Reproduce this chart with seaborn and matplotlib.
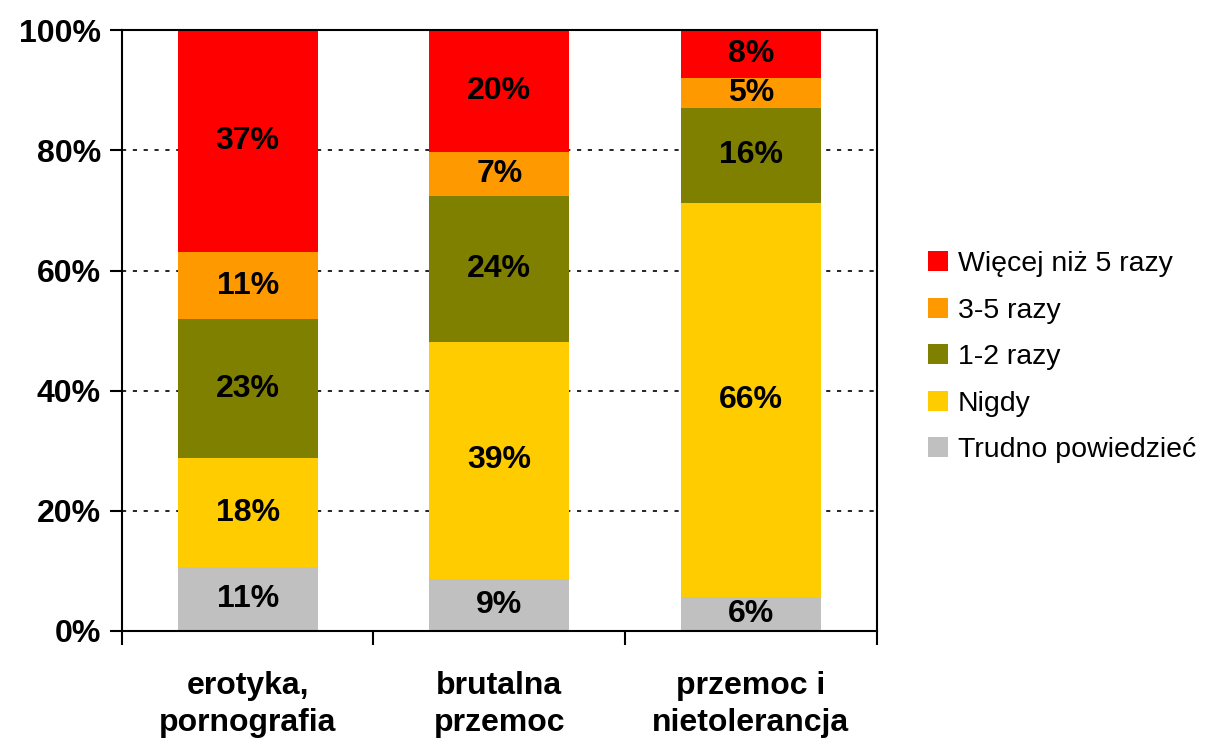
import numpy as np
import pandas as pd
import matplotlib
matplotlib.use("Agg")
import matplotlib.pyplot as plt
import seaborn as sns

# ── Data ──────────────────────────────────────────────────────────────────────
categories = ["erotyka,\npornografia", "brutalna\nprzemoc", "przemoc i\nnietolerancja"]
series = ["Trudno powiedzieć", "Nigdy", "1-2 razy", "3-5 razy", "Więcej niż 5 razy"]
trudno = [10.6, 8.7, 5.7]
nigdy = [18.2, 39.4, 65.6]
raz_1_2 = [23.1, 24.3, 15.8]
raz_3_5 = [11.2, 7.3, 5.0]
wiecej_5 = [36.9, 20.3, 7.9]
colors = ["#C0C0C0", "#FFCC00", "#808000", "#FF9900", "#FF0000"]

values = [trudno, nigdy, raz_1_2, raz_3_5, wiecej_5]

# ── Plot ──────────────────────────────────────────────────────────────────────
sns.set_style("white")
plt.rcParams["font.family"] = ["Liberation Sans", "DejaVu Sans"]
plt.rcParams["text.color"] = "black"
plt.rcParams["xtick.color"] = "black"
plt.rcParams["ytick.color"] = "black"

fig = plt.figure(figsize=(12.06, 7.38), dpi=100)
ax = fig.add_axes([0.101, 0.145, 0.626, 0.814])

# dotted grid behind bars
for y in [20, 40, 60, 80]:
    ax.axhline(y, color="black", linestyle=(0, (2.5, 4)), linewidth=1.2, zorder=0)

bottom = np.zeros(len(categories))
for name, vals, col in zip(series, values, colors):
    sns.barplot(x=categories, y=vals, bottom=bottom, color=col, width=0.556,
                label=name, ax=ax, saturation=1, zorder=2, linewidth=0,
                edgecolor="none")
    for i, v in enumerate(vals):
        ax.text(i, bottom[i] + v / 2, f"{v:.0f}%", ha="center", va="center",
                fontsize=23, fontweight="bold", color="black", zorder=3)
    bottom = bottom + np.array(vals)

ax.set_xlim(-0.5, 2.5)
ax.set_ylim(0, 100)
ax.set_yticks([0, 20, 40, 60, 80, 100])
ax.set_yticklabels([f"{t}%" for t in [0, 20, 40, 60, 80, 100]],
                   fontsize=23, fontweight="bold")
ax.tick_params(axis="y", length=9, width=1.5, direction="out", pad=6, left=True)

ax.set_xticks([-0.5, 0.5, 1.5, 2.5])
ax.set_xticklabels([])
ax.set_xticks([0, 1, 2], minor=True)
ax.set_xticklabels(categories, minor=True, fontsize=23, fontweight="bold",
                   linespacing=1.3)
ax.tick_params(axis="x", which="major", length=10, width=1.5, direction="out", bottom=True)
ax.tick_params(axis="x", which="minor", length=0, pad=29)
ax.set_xlabel("")
ax.set_ylabel("")

for s in ax.spines.values():
    s.set_visible(True)
    s.set_color("black")
    s.set_linewidth(1.5)

handles, labels = ax.get_legend_handles_labels()
leg = ax.legend(handles[::-1], labels[::-1], loc="center left",
                bbox_to_anchor=(1.053, 0.456), frameon=False, fontsize=20.5,
                handlelength=0.7, handleheight=0.7, handletextpad=0.35,
                labelspacing=0.72, borderaxespad=0)

fig.savefig("out.png", dpi=100)
